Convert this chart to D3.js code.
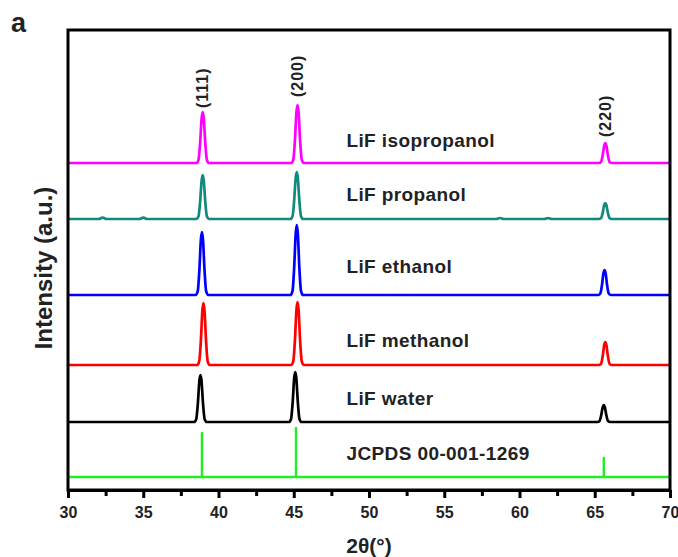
<!DOCTYPE html>
<html>
<head>
<meta charset="utf-8">
<script src="https://cdn.jsdelivr.net/npm/d3@7/dist/d3.min.js"></script>
<style>
  html, body { margin: 0; padding: 0; background: #fff; }
  svg { display: block; font-family: "Liberation Sans", Arial, sans-serif; }
</style>
</head>
<body>
<svg id="chart" width="678" height="557"></svg>
<script>
// ---------------- data ----------------
const seriesNames = ["JCPDS 00-001-1269", "LiF water", "LiF methanol", "LiF ethanol", "LiF propanol", "LiF isopropanol"];
const seriesColors = ["#22ee22", "#000000", "#ff0000", "#0000ff", "#108a7a", "#ff00ff"];
const seriesOffsets = [13, 68, 125, 195, 271, 327];          // baseline intensity (a.u.)
const peakPositions = [                                      // 2θ of (111), (200), (220)
  [38.9, 45.15, 65.6],
  [38.8, 45.1, 65.6],
  [39.0, 45.25, 65.7],
  [38.9, 45.2, 65.65],
  [38.95, 45.2, 65.7],
  [38.95, 45.25, 65.7]
];
const peakHeights = [                                        // peak intensities (a.u.)
  [44, 49, 19],
  [47, 50, 17],
  [62, 63, 23],
  [63, 70, 25],
  [44, 47, 16],
  [51, 58, 20]
];
const hklLabels = ["(111)", "(200)", "(220)"];
const propanolMinorBumps = [[32.3, 1.4], [35.0, 1.4], [58.7, 1.0], [61.9, 0.9]];
const peakProfile = [[-0.42, 0], [-0.28, 0.06], [-0.17, 0.4], [-0.07, 0.88], [0, 1],
                     [0.07, 0.88], [0.17, 0.4], [0.28, 0.06], [0.42, 0]];
const xTicks = [30, 35, 40, 45, 50, 55, 60, 65, 70];
const xMinorTicks = [32.5, 37.5, 42.5, 47.5, 52.5, 57.5, 62.5, 67.5];
const xDomain = [30, 70];
const yDomain = [0, 460];

// ---------------- layout ----------------
const svg = d3.select("#chart");
const margin = { left: 68, right: 8, top: 30, bottom: 67 };
const W = 678, H = 557;
const x = d3.scaleLinear().domain(xDomain).range([margin.left, W - margin.right]);
const y = d3.scaleLinear().domain(yDomain).range([H - margin.bottom, margin.top]);

// build series points
function buildSeries(i) {
  const off = seriesOffsets[i];
  const pts = [[xDomain[0], off]];
  const isStick = i === 0;
  const extras = (i === 4) ? propanolMinorBumps.map(b => ({ pos: b[0], h: b[1], small: true })) : [];
  const peaks = peakPositions[i].map((p, k) => ({ pos: p, h: peakHeights[i][k], small: false }));
  const all = extras.concat(peaks).sort((a, b) => a.pos - b.pos);
  all.forEach(pk => {
    if (isStick) {
      pts.push([pk.pos, off], [pk.pos, off + pk.h], [pk.pos, off]);
    } else if (pk.small) {
      pts.push([pk.pos - 0.25, off], [pk.pos, off + pk.h], [pk.pos + 0.25, off]);
    } else {
      peakProfile.forEach(pp => pts.push([pk.pos + pp[0], off + pp[1] * pk.h]));
    }
  });
  pts.push([xDomain[1], off]);
  return pts;
}

const lineSmooth = d3.line().x(d => x(d[0])).y(d => y(d[1])).curve(d3.curveMonotoneX);
const lineLinear = d3.line().x(d => x(d[0])).y(d => y(d[1]));

const g = svg.append("g");
seriesNames.forEach((name, i) => {
  const pts = buildSeries(i);
  g.append("path")
    .attr("d", i === 0 ? lineLinear(pts) : lineSmooth(pts))
    .attr("fill", "none")
    .attr("stroke", seriesColors[i])
    .attr("stroke-width", i === 0 ? 2.4 : 2.7)
    .attr("stroke-linejoin", "round");
});

// series labels
const labelGap = [17, 17, 18, 22, 18, 16];
seriesNames.forEach((name, i) => {
  svg.append("text")
    .attr("x", x(48.5))
    .attr("y", y(seriesOffsets[i]) - labelGap[i])
    .attr("font-size", 19)
    .attr("letter-spacing", 0.4)
    .attr("font-weight", "bold")
    .attr("fill", "#222")
    .text(name);
});

// hkl labels above top pattern
const topIdx = seriesNames.length - 1;
const hklGap = [4, 8, 6];
hklLabels.forEach((lab, k) => {
  const px = x(peakPositions[topIdx][k]);
  const py = y(seriesOffsets[topIdx] + peakHeights[topIdx][k]) - hklGap[k];
  svg.append("text")
    .attr("transform", `translate(${px + 5.5},${py}) rotate(-90)`)
    .attr("font-size", 16)
    .attr("letter-spacing", 1)
    .attr("font-weight", "bold")
    .attr("fill", "#222")
    .text(lab);
});

// frame
svg.append("rect")
  .attr("x", x(xDomain[0])).attr("y", y(yDomain[1]))
  .attr("width", x(xDomain[1]) - x(xDomain[0]))
  .attr("height", y(yDomain[0]) - y(yDomain[1]))
  .attr("fill", "none").attr("stroke", "#000").attr("stroke-width", 3);

// x axis
const axis = d3.axisBottom(x).tickValues(xTicks).tickFormat(d3.format("d")).tickSize(8).tickPadding(9).tickSizeOuter(0);
const ax = svg.append("g").attr("transform", `translate(0,${y(yDomain[0])})`).call(axis);
ax.select(".domain").attr("stroke-width", 3);
ax.selectAll(".tick line").attr("stroke-width", 3);
ax.selectAll(".tick text").attr("font-size", 16).attr("font-weight", "bold").attr("fill", "#222")
  .attr("font-family", "'Liberation Sans', Arial, sans-serif");
const axMinor = d3.axisBottom(x).tickValues(xMinorTicks).tickFormat("").tickSize(6).tickSizeOuter(0);
const am = svg.append("g").attr("transform", `translate(0,${y(yDomain[0])})`).call(axMinor);
am.select(".domain").remove();
am.selectAll(".tick line").attr("stroke-width", 3);

// axis titles
svg.append("text")
  .attr("x", (x(xDomain[0]) + x(xDomain[1])) / 2)
  .attr("y", 553)
  .attr("text-anchor", "middle")
  .attr("font-size", 21).attr("font-weight", "bold").attr("fill", "#222")
  .text("2θ(°)");

svg.append("text")
  .attr("transform", `translate(52,${(y(yDomain[0]) + y(yDomain[1])) / 2 + 8}) rotate(-90)`)
  .attr("text-anchor", "middle")
  .attr("font-size", 24).attr("font-weight", "bold").attr("fill", "#222")
  .text("Intensity (a.u.)");

svg.append("text")
  .attr("x", 11).attr("y", 32)
  .attr("font-size", 27).attr("font-weight", "bold").attr("fill", "#222")
  .text("a");
</script>
</body>
</html>
